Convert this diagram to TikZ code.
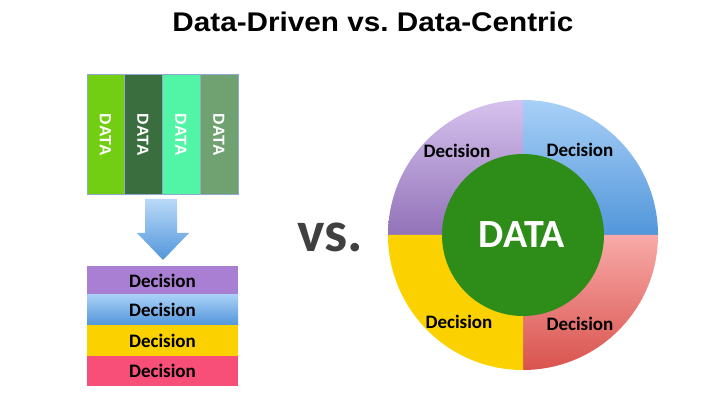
\documentclass[tikz,border=0pt]{standalone}
\usepackage{fontspec}
\setmainfont{Carlito}
\newfontfamily\lsans{Liberation Sans}
\begin{document}
\begin{tikzpicture}[x=1pt,y=1pt,
  col/.style={draw=colborder, line width=0.7pt},
  dtxt/.style={font=\lsans\bfseries\fontsize{16}{16}\selectfont, text=white, rotate=-90},
  dec/.style={font=\bfseries\fontsize{19}{19}\selectfont, text=black}]
\definecolor{c1}{HTML}{72CE12}
\definecolor{c2}{HTML}{3B6E3F}
\definecolor{c3}{HTML}{52F5A6}
\definecolor{c4}{HTML}{70A271}
\definecolor{colborder}{HTML}{8FAACB}
\definecolor{dpurple}{HTML}{A97FD3}
\definecolor{dyellow}{HTML}{FBD200}
\definecolor{dpink}{HTML}{F84F78}
\definecolor{bluetop}{HTML}{A8D0F7}
\definecolor{bluebot}{HTML}{5296DA}
\definecolor{purtop}{HTML}{D6C2EE}
\definecolor{purbot}{HTML}{9272B8}
\definecolor{redtop}{HTML}{F8AAA8}
\definecolor{redbot}{HTML}{D9534E}
\definecolor{inner}{HTML}{2E8C19}
\definecolor{vsgray}{HTML}{404040}
\useasboundingbox[fill=white] (0,0) rectangle (709,399);

% title
\node[font=\lsans\bfseries\fontsize{27}{27}\selectfont, xscale=1.1] (title) at (373,377) {Data-Driven vs.\ Data-Centric};

% data columns
\fill[c1] (87,205) rectangle (124,325);
\fill[c2] (124,205) rectangle (162,325);
\fill[c3] (162,205) rectangle (200,325);
\fill[c4] (200,205) rectangle (238,325);
\draw[col] (87,205) rectangle (238,325);
\draw[col] (124,205) -- (124,325) (162,205) -- (162,325) (200,205) -- (200,325);
\node[dtxt] (d1) at (105.5,264) {DATA};
\node[dtxt] (d2) at (143,264) {DATA};
\node[dtxt] (d3) at (181,264) {DATA};
\node[dtxt] (d4) at (219,264) {DATA};

% arrow
\shade[top color=bluetop!80!white, bottom color=bluebot]
  (145,200) -- (177,200) -- (177,166) -- (189,166) -- (163,139) -- (137,166) -- (145,166) -- cycle;

% decision stack
\fill[dpurple] (87,104) rectangle (238,133);
\shade[top color=bluetop, bottom color=bluebot] (87,74) rectangle (238,104);
\fill[dyellow] (87,43) rectangle (238,74);
\fill[dpink] (87,13) rectangle (238,43);
\node[dec] (s1) at (162.5,118.5) {Decision};
\node[dec] (s2) at (162.5,89) {Decision};
\node[dec] (s3) at (162.5,58.5) {Decision};
\node[dec] (s4) at (162.5,28) {Decision};

% vs
\node[font=\bfseries\fontsize{58}{58}\selectfont, text=vsgray] (vs) at (330,162) {vs.};

% circle
\shade[top color=purtop, bottom color=purbot] (523,164) -- (388,164) arc[start angle=180, end angle=90, radius=135] -- cycle;
\shade[top color=bluetop, bottom color=bluebot] (523,164) -- (523,299) arc[start angle=90, end angle=0, radius=135] -- cycle;
\shade[top color=redtop, bottom color=redbot] (523,164) -- (658,164) arc[start angle=0, end angle=-90, radius=135] -- cycle;
\fill[dyellow] (523,164) -- (523,29) arc[start angle=-90, end angle=-180, radius=135] -- cycle;
\fill[inner] (523,164) circle[radius=81];
\node[font=\bfseries\fontsize{40}{40}\selectfont, text=white] (data) at (522,164) {DATA};
\node[dec] (q1) at (457,248) {Decision};
\node[dec] (q2) at (580,249) {Decision};
\node[dec] (q3) at (459,77) {Decision};
\node[dec] (q4) at (580,75) {Decision};
\end{tikzpicture}
\end{document}
